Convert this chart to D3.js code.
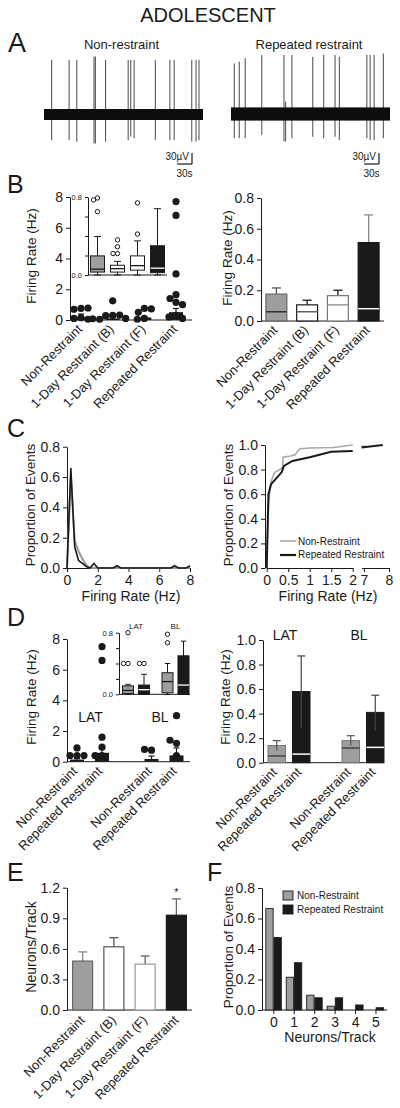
<!DOCTYPE html>
<html><head><meta charset="utf-8">
<script src="https://cdn.jsdelivr.net/npm/d3@7"></script>
<style>body{margin:0;background:#fff}svg{display:block}</style>
</head><body><svg id="c" width="400" height="1108"></svg>
<script>
// ---------------- DATA ----------------
const title = "ADOLESCENT";
const traceNames = ["Non-restraint", "Repeated restraint"];
// Panel A: spike times (s) and peak amplitudes (µV, up / down)
const spikeTimesNR = [15.4, 50.6, 66, 100.6, 103.4, 124, 169.4, 174.6, 181.4, 224, 253.4, 262, 297.4, 306, 312];
const spikeUpNR    = [149, 149, 149, 158, 158, 149, 149, 149, 149, 149, 149, 149, 149, 149, 149];
const spikeDownNR  = [70, 70, 74, 79, 79, 74, 70, 60, 65, 70, 70, 70, 74, 74, 70];
const spikeTimesRR = [6.6, 16.6, 28.6, 62, 106.6, 110, 122.6, 164.6, 186.6, 209.4, 218, 273.4, 280, 288, 306.6];
const spikeUpRR    = [138, 143, 152, 161, 161, 34, 161, 156, 161, 161, 156, 161, 161, 161, 165];
const spikeDownRR  = [66, 66, 66, 57, 75, 75, 66, 62, 66, 62, 71, 66, 71, 71, 66];
const noiseBand = [15, 18];           // µV half-width of baseline noise
const scaleBarUV = 30, scaleBarS = 30;

// Panel B
const groups4 = ["Non-Restraint", "1-Day Restraint (B)", "1-Day Restraint (F)", "Repeated Restraint"];
const rateMean   = [0.175, 0.105, 0.165, 0.51];
const rateErrTop = [0.215, 0.135, 0.20, 0.69];
const rateMedian = [0.06, 0.06, 0.105, 0.08];
const dotWhiskerB = [0.39, 0.2, 0.2, 0.75];
const dotsB = [
  [0.75, 0.7, 0.78, 0.15, 0.1, 0.05],
  [1.25, 0.3, 0.28, 0.32, 0.1, 0.05, 0.08],
  [0.75, 0.5, 0.72, 0.1, 0.05],
  [7.7, 6.8, 3.0, 1.65, 1.4, 1.15, 1.0, 0.3, 0.2, 0.1]
];
const boxLoB  = [0, 0, 0, 0];
const boxQ1B  = [0.03, 0.03, 0.05, 0.024];
const boxMedB = [0.06, 0.065, 0.096, 0.07];
const boxQ3B  = [0.196, 0.10, 0.196, 0.30];
const boxHiB  = [0.395, 0.14, 0.35, 0.68];
const outB = [[0.79, 0.77, 0.65], [0.36, 0.29, 0.22, 0.22], [0.74, 0.42], []];

// Panel C
const histX      = [0, 0.25, 0.5, 0.75, 1.0, 1.25, 1.5, 1.75, 2.0, 3.0, 3.25, 3.5, 6.75, 7.0, 7.25, 7.75, 8.0];
const histRR     = [0, 0.66, 0.14, 0.05, 0.03, 0.01, 0.0, 0.03, 0.0, 0.0, 0.015, 0.0, 0.0, 0.015, 0.0, 0.0, 0.015];
const histNR     = [0, 0.60, 0.18, 0.11, 0.06, 0.02, 0.0, 0.0, 0.0, 0.0, 0.0, 0.0, 0.0, 0.0, 0.0, 0.0, 0.0];
const cdfNRx = [0, 0.02, 0.05, 0.1, 0.15, 0.2, 0.3, 0.37, 0.38, 0.55, 0.66, 0.72, 0.78, 1.0, 1.55, 2.0];
const cdfNRy = [0, 0.3, 0.55, 0.7, 0.75, 0.78, 0.80, 0.82, 0.90, 0.91, 0.92, 0.95, 0.97, 0.975, 0.98, 1.0];
const cdfRRx = [0, 0.04, 0.1, 0.2, 0.35, 0.4, 0.6, 1.0, 1.5, 2.0];
const cdfRRy = [0, 0.6, 0.68, 0.72, 0.78, 0.83, 0.87, 0.90, 0.945, 0.952];
const cdfNRtailX = [6.9, 7.1], cdfNRtailY = [0.99, 0.99];
const cdfRRtailX = [6.9, 7.75], cdfRRtailY = [0.98, 1.0];
const seriesNames = ["Non-Restraint", "Repeated Restraint"];

// Panel D
const regions = ["LAT", "BL"];
const groups2 = ["Non-Restraint", "Repeated Restraint"];
const dMean   = [[0.14, 0.58], [0.18, 0.41]];
const dErrHi  = [[0.18, 0.87], [0.22, 0.55]];
const dErrLo  = [[0.10, 0.28], [0.14, 0.26]];
const dMedian = [[0.055, 0.07], [0.12, 0.125]];
const dDotWhisker = [[0.2, 0.87], [0.37, 0.9]];
const dDots = [[[0.9, 0.4, 0.4, 0.4], [7.5, 6.6, 1.6, 0.95, 0.4, 0.4]], [[0.75, 0.8], [3.0, 1.2, 1.4, 0.4]]];
const dBoxLo  = [[0, 0], [0, 0]];
const dBoxQ1  = [[0.01, 0.0], [0.02, 0.0]];
const dBoxMed = [[0.05, 0.06], [0.165, 0.12]];
const dBoxQ3  = [[0.11, 0.12], [0.28, 0.5]];
const dBoxHi  = [[0.13, 0.26], [0.4, 0.69]];
const dBoxOut = [[[0.8, 0.4, 0.4], [0.4, 0.4]], [[0.78, 0.67], []]];

// Panel E
const tracksMean = [0.48, 0.62, 0.45, 0.93];
const tracksErr  = [0.57, 0.71, 0.53, 1.09];

// Panel F
const nTrack = ["0", "1", "2", "3", "4", "5"];
const propNR = [0.665, 0.215, 0.097, 0.025, 0, 0];
const propRR = [0.475, 0.31, 0.08, 0.08, 0.033, 0.015];

// ---------------- DRAWING ----------------
const svg = d3.select("#c");
const FONT = '"Liberation Sans", Arial, Helvetica, sans-serif';
const INK = "#1a1a1a", GRAY = "#9e9e9e", BLK = "#1a1a1a";
svg.append("rect").attr("width", 400).attr("height", 1108).attr("fill", "#fff");

function text(x, y, s, size, anchor = "start") {
  return svg.append("text").attr("x", x).attr("y", y).attr("font-size", size)
    .attr("font-family", FONT).attr("fill", INK).attr("text-anchor", anchor).text(s);
}
function ytitle(x, y, s, size = 13.5) {
  svg.append("text").attr("transform", `translate(${x},${y}) rotate(-90)`).attr("text-anchor", "middle")
    .attr("font-size", size).attr("font-family", FONT).attr("fill", INK).text(s);
}
function rot(x, y, s, size = 13) {
  svg.append("text").attr("transform", `translate(${x},${y}) rotate(-45)`).attr("text-anchor", "end")
    .attr("font-size", size).attr("font-family", FONT).attr("fill", INK).text(s);
}
function styleAxis(g, size) {
  g.attr("font-family", FONT).attr("font-size", size);
  g.selectAll("text").attr("fill", INK);
  g.selectAll("line,path").attr("stroke", INK).attr("stroke-width", 1);
}
function yAxis(scale, x, ticks, fmt, size = 14, tick = 4) {
  const g = svg.append("g").attr("transform", `translate(${x},0)`)
    .call(d3.axisLeft(scale).tickValues(ticks).tickFormat(fmt).tickSize(tick).tickSizeOuter(0).tickPadding(3));
  styleAxis(g, size); return g;
}
function line(x1, y1, x2, y2, color = INK, w = 1) {
  svg.append("line").attr("x1", x1).attr("y1", y1).attr("x2", x2).attr("y2", y2)
    .attr("stroke", color).attr("stroke-width", w);
}
function rect(x, y, w, h, fill, stroke, sw = 1) {
  svg.append("rect").attr("x", x).attr("y", y).attr("width", w).attr("height", h)
    .attr("fill", fill).attr("stroke", stroke || "none").attr("stroke-width", sw);
}
function errBar(cx, y1, y2, color, cap = 6, w = 1.2) {
  line(cx, y1, cx, y2, color, w);
  line(cx - cap / 2, y2, cx + cap / 2, y2, color, w);
}
function swarm(vals, y, cx, r) {
  const placed = [];
  vals.forEach(v => {
    const py = y(v);
    for (let k = 0; k < 400; k++) {
      const off = (k % 2 === 1 ? -1 : 1) * Math.ceil(k / 2) * 0.5;
      const px = cx + off;
      if (placed.every(p => (p.x - px) ** 2 + (p.y - py) ** 2 >= (2 * r - 0.6) ** 2)) { placed.push({ x: px, y: py }); break; }
    }
  });
  return placed;
}
function boxplot(cx, w, y, lo, q1, med, q3, hi, out, fill, medColor) {
  line(cx, y(q3), cx, y(hi)); line(cx - w / 4, y(hi), cx + w / 4, y(hi));
  line(cx, y(q1), cx, y(lo)); line(cx - w / 4, y(lo), cx + w / 4, y(lo));
  rect(cx - w / 2, y(q3), w, y(q1) - y(q3), fill, INK, 1);
  line(cx - w / 2, y(med), cx + w / 2, y(med), medColor, 1.3);
  swarm(out, y, cx, 2.4).forEach(p => svg.append("circle").attr("cx", p.x).attr("cy", p.y).attr("r", 2.2)
    .attr("fill", "#fff").attr("stroke", INK).attr("stroke-width", 1));
}

// ---- Title & Panel A ----
text(208, 22, title, 20, "middle");
text(8, 52, "A", 27);
[
  { t: spikeTimesNR, up: spikeUpNR, dn: spikeDownNR, x: [44, 203], yc: 114.5, name: traceNames[0], nx: 121.5, bar: [192, 164] },
  { t: spikeTimesRR, up: spikeUpRR, dn: spikeDownRR, x: [231, 390], yc: 114, name: traceNames[1], nx: 309, bar: [379, 164] }
].forEach((tr, i) => {
  const tx = d3.scaleLinear([0, 320], tr.x);
  const vy = d3.scaleLinear([0, 30], [tr.yc, tr.yc - 11]);
  text(tr.nx, 49, tr.name, 13, "middle");
  tr.t.forEach((s, j) => line(tx(s), vy(tr.up[j]), tx(s), vy(-tr.dn[j]), "#333", 0.9));
  rect(tx(0), vy(noiseBand[i]), tx(320) - tx(0), vy(-noiseBand[i]) - vy(noiseBand[i]), "#0d0d0d");
  const [bx, by] = tr.bar;
  const hLen = tx(scaleBarS) - tx(0), vLen = vy(0) - vy(scaleBarUV);
  line(bx, by, bx, by - vLen, INK, 1.2);
  line(bx - hLen, by, bx, by, INK, 1.2);
  text(bx - 3, by - 4, scaleBarUV + "µV", 10, "end");
  text(bx - hLen / 2, by + 13, scaleBarS + "s", 10, "middle");
});

// ---- Panel B (left: dots + inset) ----
text(7, 193, "B", 25);
const yBl = d3.scaleLinear([0, 8], [320, 197]);
const xBl = d3.scalePoint(groups4, [81, 176]);
yAxis(yBl, 70, [0, 2, 4, 6, 8], d3.format("d"));
line(70, 320, 192, 320);
ytitle(36, 256, "Firing Rate (Hz)");
groups4.forEach((g, i) => {
  const cx = xBl(g);
  rect(cx - 7, yBl(rateMean[i]), 14, yBl(0) - yBl(rateMean[i]), BLK);
  errBar(cx, yBl(rateMean[i]), yBl(dotWhiskerB[i]), INK, 6);
  swarm(dotsB[i], yBl, cx, 3.7).forEach(p => svg.append("circle").attr("cx", p.x).attr("cy", p.y).attr("r", 3.6).attr("fill", BLK));
  rot(cx + 2, 330, g);
});
// inset
const yIn = d3.scaleLinear([0, 0.8], [275, 197]);
const xIn = d3.scalePoint(groups4, [97.5, 157.5]);
yAxis(yIn, 88, [0, 0.2, 0.4, 0.6, 0.8], d => (d === 0 || d === 0.8) ? d3.format(".1f")(d) : "", 7.5, 3);
line(88, 275, 167, 275);
const inFill = [GRAY, "#fff", "#fff", BLK], inMed = [INK, INK, INK, "#fff"];
groups4.forEach((g, i) => boxplot(xIn(g), 14, yIn, boxLoB[i], boxQ1B[i], boxMedB[i], boxQ3B[i], boxHiB[i], outB[i], inFill[i], inMed[i]));

// ---- Panel B (right: bars) ----
const yBr = d3.scaleLinear([0, 0.8], [321, 198]);
const xBr = d3.scaleBand(groups4, [261, 384]);
yAxis(yBr, 261, [0, 0.2, 0.4, 0.6, 0.8], d3.format(".1f"));
line(261, 321, 384, 321);
ytitle(232, 258, "Firing Rate (Hz)");
const bFill = [GRAY, "#fff", "#fff", BLK], bStroke = ["#666", INK, "#777", INK];
const bErr = ["#555", INK, INK, "#888"], bMed = ["#333", "#666", "#999", "#fff"];
groups4.forEach((g, i) => {
  const w = xBr.bandwidth() * 0.68, cx = xBr(g) + xBr.bandwidth() / 2;
  errBar(cx, yBr(rateMean[i]), yBr(rateErrTop[i]), bErr[i], 9, 1.3);
  rect(cx - w / 2, yBr(rateMean[i]), w, yBr(0) - yBr(rateMean[i]), bFill[i], bStroke[i], 1.2);
  line(cx - w / 2, yBr(rateMedian[i]), cx + w / 2, yBr(rateMedian[i]), bMed[i], 1.5);
  rot(cx + 2, 331, g);
});

// ---- Panel C (left: histogram lines) ----
text(7, 437, "C", 25);
const xCl = d3.scaleLinear([0, 8], [67, 190]);
const yCl = d3.scaleLinear([0, 0.8], [568, 446.7]);
yAxis(yCl, 67, [0, 0.2, 0.4, 0.6, 0.8], d3.format(".1f"));
const gxc = svg.append("g").attr("transform", "translate(0,568)")
  .call(d3.axisBottom(xCl).tickValues([0, 2, 4, 6, 8]).tickSize(4).tickSizeOuter(0).tickPadding(3));
styleAxis(gxc, 14);
ytitle(35, 505, "Proportion of Events");
text(131, 601, "Firing Rate (Hz)", 14, "middle");
const lnC = d3.line().x(d => xCl(d[0])).y(d => yCl(d[1]));
svg.append("path").attr("d", lnC(histX.map((x, i) => [x, histNR[i]]))).attr("fill", "none").attr("stroke", "#9a9a9a").attr("stroke-width", 2);
svg.append("path").attr("d", lnC(histX.map((x, i) => [x, histRR[i]]))).attr("fill", "none").attr("stroke", BLK).attr("stroke-width", 1.6);

// ---- Panel C (right: cumulative, broken axis) ----
const xCa = d3.scaleLinear([0, 2], [266.7, 352.7]);
const xCb = d3.scaleLinear([6.9, 8], [361.5, 389]);
const yCr = d3.scaleLinear([0, 1], [568, 445]);
yAxis(yCr, 265, [0, 0.2, 0.4, 0.6, 0.8, 1.0], d3.format(".1f"));
const ga = svg.append("g").attr("transform", "translate(0,568)")
  .call(d3.axisBottom(xCa).tickValues([0, 0.5, 1, 1.5, 2]).tickFormat(d3.format("")).tickSize(4).tickSizeOuter(0).tickPadding(3));
styleAxis(ga, 14);
const gb = svg.append("g").attr("transform", "translate(0,568)")
  .call(d3.axisBottom(xCb).tickValues([7, 8]).tickFormat(d3.format("d")).tickSize(4).tickSizeOuter(0).tickPadding(3));
styleAxis(gb, 14);
ytitle(233, 505, "Proportion of Events");
text(328, 601, "Firing Rate (Hz)", 14, "middle");
const lnA = d3.line().x(d => xCa(d[0])).y(d => yCr(d[1]));
const lnB = d3.line().x(d => xCb(d[0])).y(d => yCr(d[1]));
svg.append("path").attr("d", lnA(cdfNRx.map((x, i) => [x, cdfNRy[i]]))).attr("fill", "none").attr("stroke", "#a8a8a8").attr("stroke-width", 1.6);
svg.append("path").attr("d", lnB(cdfNRtailX.map((x, i) => [x, cdfNRtailY[i]]))).attr("fill", "none").attr("stroke", "#a8a8a8").attr("stroke-width", 1.6);
svg.append("path").attr("d", lnA(cdfRRx.map((x, i) => [x, cdfRRy[i]]))).attr("fill", "none").attr("stroke", BLK).attr("stroke-width", 2);
svg.append("path").attr("d", lnB(cdfRRtailX.map((x, i) => [x, cdfRRtailY[i]]))).attr("fill", "none").attr("stroke", BLK).attr("stroke-width", 2);
line(280, 541, 296, 541, "#a8a8a8", 1.6); text(298, 544.5, seriesNames[0], 10);
line(280, 555, 296, 555, BLK, 2.2); text(298, 558, seriesNames[1], 10);

// ---- Panel D (left: dots + inset) ----
text(7, 626, "D", 25);
const yDl = d3.scaleLinear([0, 8], [761.7, 639]);
const xDlg = d3.scalePoint(regions, [89.5, 164]);
const xDli = d3.scalePoint(groups2, [-12.5, 12.5]);
yAxis(yDl, 67, [0, 2, 4, 6, 8], d3.format("d"));
line(67, 761.7, 190, 761.7);
ytitle(36, 697, "Firing Rate (Hz)");
regions.forEach((r, ri) => {
  text(xDlg(r) + (ri ? -4 : 1), 721.7, r, 14, "middle");
  groups2.forEach((g, gi) => {
    const cx = xDlg(r) + xDli(g);
    rect(cx - 7, yDl(dMean[ri][gi]), 14, yDl(0) - yDl(dMean[ri][gi]), BLK);
    errBar(cx, yDl(dMean[ri][gi]), yDl(dDotWhisker[ri][gi]), INK, 6);
    swarm(dDots[ri][gi], yDl, cx, 3.7).forEach(p => svg.append("circle").attr("cx", p.x).attr("cy", p.y).attr("r", 3.6).attr("fill", BLK));
    rot(cx + 1, 772, g);
  });
});
const yDi = d3.scaleLinear([0, 0.8], [694.3, 632.7]);
const xDig = d3.scalePoint(regions, [136, 175.5]);
const xDii = d3.scalePoint(groups2, [-8, 8]);
yAxis(yDi, 119, [0, 0.2, 0.4, 0.6, 0.8], d => (d === 0 || d === 0.8) ? d3.format(".1f")(d) : "", 7.5, 3);
line(119, 694.3, 190, 694.3);
const dFill = [GRAY, BLK], dMedC = [INK, "#fff"];
regions.forEach((r, ri) => {
  text(xDig(r), 629, r, 8, "middle");
  groups2.forEach((g, gi) => boxplot(xDig(r) + xDii(g), 11, yDi, dBoxLo[ri][gi], dBoxQ1[ri][gi], dBoxMed[ri][gi], dBoxQ3[ri][gi], dBoxHi[ri][gi], dBoxOut[ri][gi], dFill[gi], dMedC[gi]));
});

// ---- Panel D (right: bars) ----
const yDr = d3.scaleLinear([0, 1], [762.7, 640]);
const xDrg = d3.scalePoint(regions, [289, 363]);
const xDri = d3.scalePoint(groups2, [-12.25, 12.25]);
yAxis(yDr, 263, [0, 0.2, 0.4, 0.6, 0.8, 1.0], d3.format(".1f"));
line(263, 762.7, 384, 762.7);
ytitle(230, 697, "Firing Rate (Hz)");
const drFill = [GRAY, BLK], drMed = ["#444", "#fff"], drErr = ["#555", "#444"];
regions.forEach((r, ri) => {
  text(xDrg(r) - 4, 640, r, 14, "middle");
  groups2.forEach((g, gi) => {
    const cx = xDrg(r) + xDri(g), w = 17.5;
    rect(cx - w / 2, yDr(dMean[ri][gi]), w, yDr(0) - yDr(dMean[ri][gi]), drFill[gi], gi ? BLK : "#777", 1);
    errBar(cx, yDr(dErrLo[ri][gi]), yDr(dErrHi[ri][gi]), drErr[gi], 8, 1.2);
    line(cx - w / 2, yDr(dMedian[ri][gi]), cx + w / 2, yDr(dMedian[ri][gi]), drMed[gi], 1.5);
    rot(cx + 1, 773, g);
  });
});

// ---- Panel E ----
text(7, 881, "E", 25);
const yE = d3.scaleLinear([0, 1.2], [1010, 887.7]);
const xE = d3.scaleBand(groups4, [67, 192]);
yAxis(yE, 67, [0, 0.3, 0.6, 0.9, 1.2], d3.format(".1f"));
line(67, 1010, 192, 1010);
ytitle(36, 947, "Neurons/Track", 14);
const eFill = [GRAY, "#fff", "#fff", BLK], eStroke = ["#666", "#555", "#999", INK], eErr = ["#888", "#555", "#666", "#666"];
groups4.forEach((g, i) => {
  const w = 20, cx = xE(g) + xE.bandwidth() / 2;
  errBar(cx, yE(tracksMean[i]), yE(tracksErr[i]), eErr[i], 9, 1.3);
  rect(cx - w / 2, yE(tracksMean[i]), w, yE(0) - yE(tracksMean[i]), eFill[i], eStroke[i], 1.2);
  rot(cx + 3, 1021, g);
});
text(xE(groups4[3]) + xE.bandwidth() / 2, 896, "*", 11, "middle");

// ---- Panel F ----
text(207, 881, "F", 25);
const yF = d3.scaleLinear([0, 0.8], [1010, 888]);
const xF = d3.scaleBand(nTrack, [263.6, 386.2]);
const xFi = d3.scaleBand(["NR", "RR"], [-8, 7.5]).paddingInner(0.1);
yAxis(yF, 262, [0, 0.2, 0.4, 0.6, 0.8], d3.format(".1f"));
const gxf = svg.append("g").attr("transform", "translate(0,1010)")
  .call(d3.axisBottom(xF).tickSize(4).tickSizeOuter(0).tickPadding(3));
styleAxis(gxf, 14);
gxf.select(".domain").remove();
line(262, 1010, 387, 1010);
ytitle(233, 947, "Proportion of Events");
text(330, 1042, "Neurons/Track", 14, "middle");
nTrack.forEach((n, i) => {
  const c = xF(n) + xF.bandwidth() / 2;
  if (propNR[i] > 0) rect(c + xFi("NR"), yF(propNR[i]), xFi.bandwidth(), yF(0) - yF(propNR[i]), GRAY, INK, 0.9);
  if (propRR[i] > 0) rect(c + xFi("RR"), yF(propRR[i]), xFi.bandwidth(), yF(0) - yF(propRR[i]), BLK, INK, 0.9);
});
rect(283, 891, 10, 9, GRAY, INK, 0.9); text(297, 898.5, seriesNames[0], 10);
rect(283, 905, 10, 9, BLK, INK, 0.9); text(297, 912.5, seriesNames[1], 10);
</script></body></html>
